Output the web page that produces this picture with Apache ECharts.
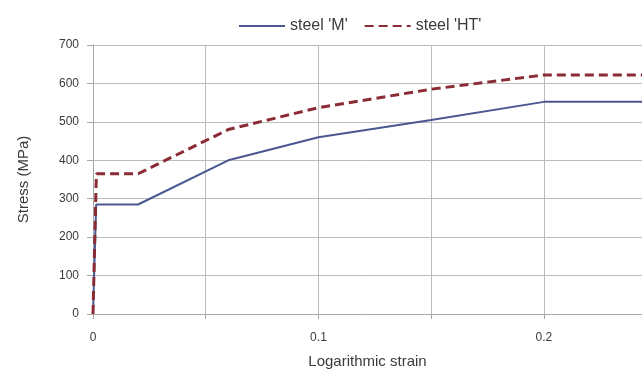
<!DOCTYPE html>
<html>
<head>
<meta charset="utf-8">
<script src="https://cdn.jsdelivr.net/npm/echarts@6/dist/echarts.min.js"></script>
<style>
html,body{margin:0;padding:0;background:#fff;}
#chart{width:642px;height:374px;}
</style>
</head>
<body>
<div id="chart"></div>
<script>
// Data
var seriesNames = ["steel 'M'", "steel 'HT'"];
var strainM = [0, 0.0014, 0.02, 0.06, 0.10, 0.15, 0.20, 0.2435];
var stressM = [0, 285, 285, 400, 460, 505, 552, 552];
var strainHT = [0, 0.0015, 0.02, 0.06, 0.10, 0.15, 0.20, 0.2435];
var stressHT = [0, 365, 365, 480, 537, 585, 622, 622];
var xTickLabels = ['0', '0.1', '0.2'];

function pairs(xs, ys) { return xs.map(function (x, i) { return [x, ys[i]]; }); }

var chart = echarts.init(document.getElementById('chart'));
var font = 'Liberation Sans, Arial, sans-serif';
chart.setOption({
  animation: false,
  legend: {
    top: 13,
    left: 233,
    itemWidth: 46,
    itemHeight: 14,
    itemGap: 16,
    itemStyle: { opacity: 0 },
    textStyle: { fontFamily: font, fontSize: 16, color: '#3a3a3a' },
    data: seriesNames
  },
  grid: { left: 93, right: 0, top: 45, bottom: 58 },
  xAxis: {
    type: 'value',
    min: 0,
    max: 0.2435,
    interval: 0.05,
    name: 'Logarithmic strain',
    nameLocation: 'middle',
    nameGap: 40,
    nameTextStyle: { fontFamily: font, fontSize: 15, color: '#3a3a3a' },
    axisLine: { show: true, lineStyle: { color: '#a6a6a6', width: 1 } },
    axisTick: { show: true, length: 5, lineStyle: { color: '#a6a6a6' } },
    splitLine: { show: true, lineStyle: { color: '#bcbcbc', width: 1 } },
    axisLabel: {
      margin: 18,
      fontFamily: font, fontSize: 12, color: '#3a3a3a',
      showMaxLabel: false,
      formatter: function (v) {
        var s = String(Math.round(v * 100) / 100);
        return xTickLabels.indexOf(s) >= 0 ? s : '';
      }
    }
  },
  yAxis: {
    type: 'value',
    min: 0,
    max: 700,
    interval: 100,
    name: 'Stress (MPa)',
    nameLocation: 'middle',
    nameGap: 62,
    nameTextStyle: { fontFamily: font, fontSize: 15, color: '#3a3a3a' },
    axisLine: { show: true, lineStyle: { color: '#a6a6a6', width: 1 } },
    axisTick: { show: true, length: 6, lineStyle: { color: '#a6a6a6' } },
    splitLine: { show: true, lineStyle: { color: '#bcbcbc', width: 1 } },
    axisLabel: { margin: 14, fontFamily: font, fontSize: 12, color: '#3a3a3a' }
  },
  series: [
    {
      name: seriesNames[0],
      type: 'line',
      symbol: 'none',
      data: pairs(strainM, stressM),
      lineStyle: { color: '#4a5790', width: 2 },
      itemStyle: { color: '#4a5790' },
      z: 3
    },
    {
      name: seriesNames[1],
      type: 'line',
      symbol: 'none',
      data: pairs(strainHT, stressHT),
      lineStyle: { color: '#8b2b35', width: 3, type: [9, 5] },
      itemStyle: { color: '#8b2b35' },
      z: 4
    }
  ]
});
</script>
</body>
</html>
